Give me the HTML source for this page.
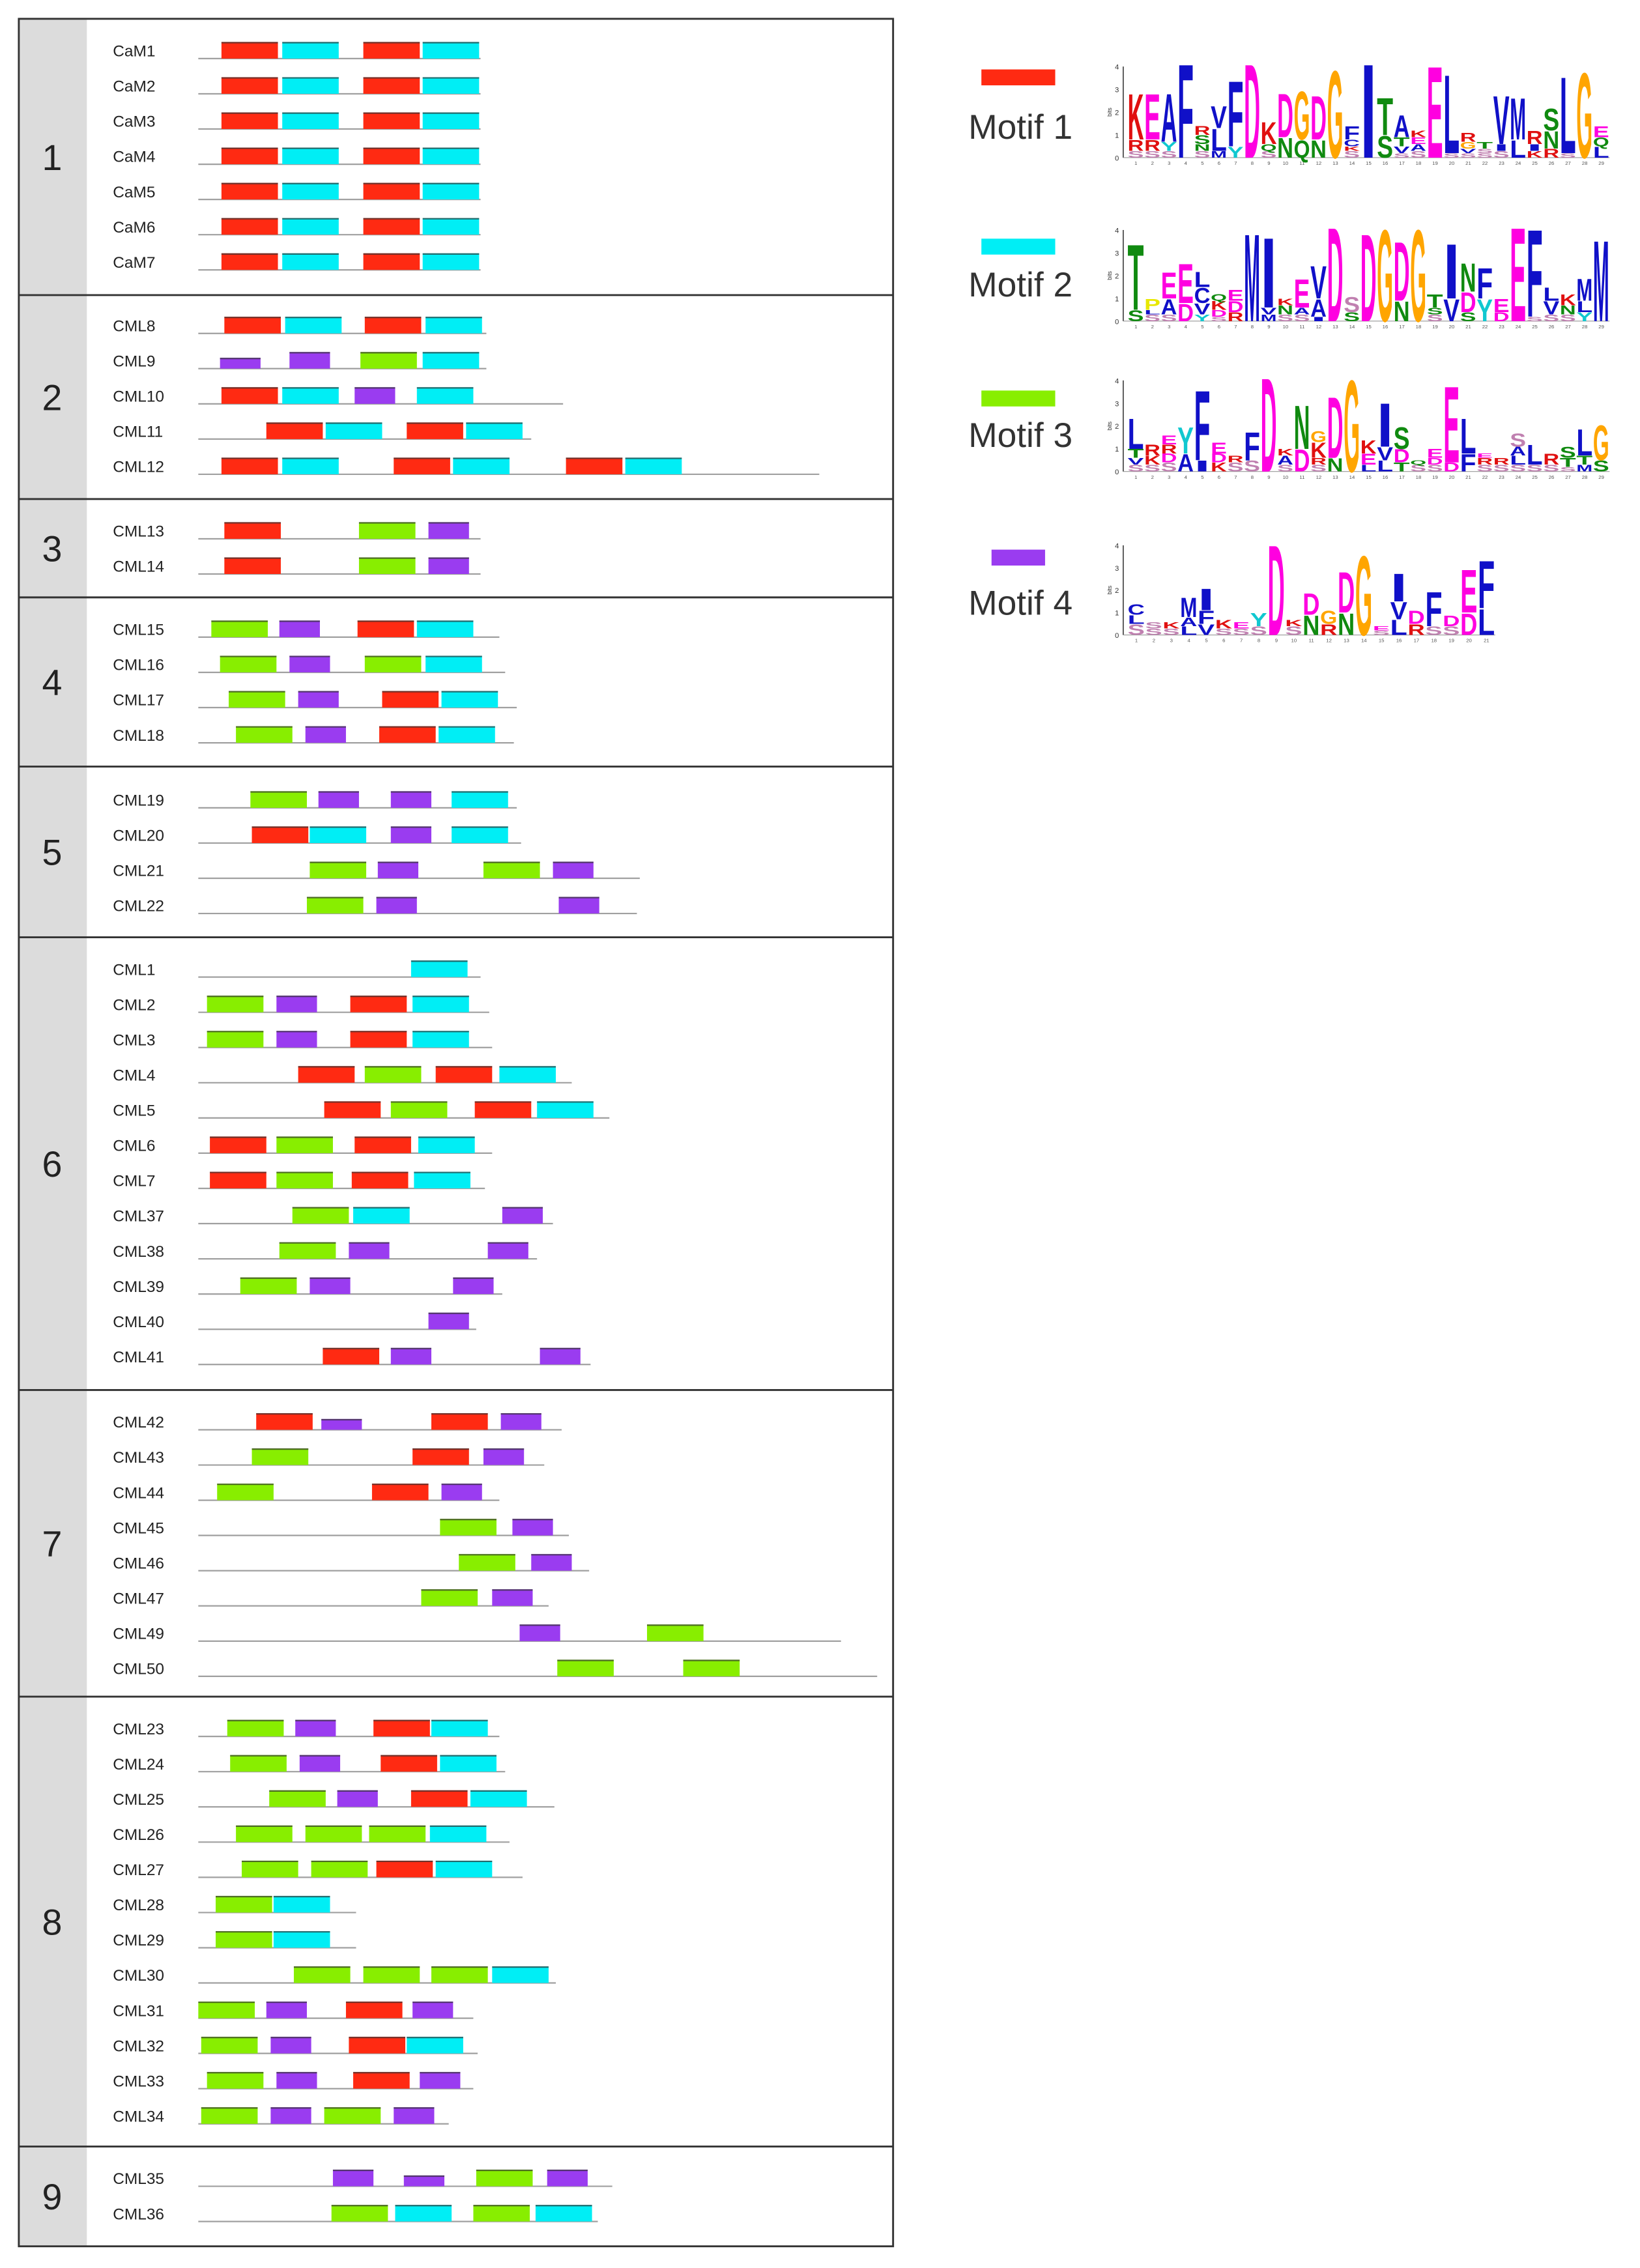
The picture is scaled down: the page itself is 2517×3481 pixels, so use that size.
<!DOCTYPE html>
<html><head><meta charset="utf-8"><style>
html,body{margin:0;padding:0;background:#fff;}
svg{display:block;}
</style></head><body>
<svg id="fig" xmlns="http://www.w3.org/2000/svg" width="2517" height="3481" viewBox="0 0 1133 1568" preserveAspectRatio="none" font-family="Liberation Sans, sans-serif">
<rect x="0" y="0" width="1133" height="1568" fill="#fff"/>
<g id="panel"></g>
<g id="legend"></g>
</svg>
<script>
// ---- data ----
const groupBounds = [13,204,345,413,530,648,961,1173,1484,1553];
const groupLabels = ["1","2","3","4","5","6","7","8","9"];
const groupFirstBase = [40.5,230.5,372.5,440.5,558.5,675.5,988.5,1200.5,1511.5];
const rowGroup = [0,0,0,0,0,0,0, 1,1,1,1,1, 2,2, 3,3,3,3, 4,4,4,4, 5,5,5,5,5,5,5,5,5,5,5,5, 6,6,6,6,6,6,6,6, 7,7,7,7,7,7,7,7,7,7,7,7, 8,8];
const rowNames = ["CaM1","CaM2","CaM3","CaM4","CaM5","CaM6","CaM7",
 "CML8","CML9","CML10","CML11","CML12","CML13","CML14",
 "CML15","CML16","CML17","CML18","CML19","CML20","CML21","CML22",
 "CML1","CML2","CML3","CML4","CML5","CML6","CML7","CML37","CML38","CML39","CML40","CML41",
 "CML42","CML43","CML44","CML45","CML46","CML47","CML49","CML50",
 "CML23","CML24","CML25","CML26","CML27","CML28","CML29","CML30","CML31","CML32","CML33","CML34",
 "CML35","CML36"];
// protein length (residue-scale units from line start)
const rowLength = [195,195,195,195,195,195,195, 199,199,252,230,429, 195,195,
 208,212,220,218, 220,223,305,303,
 195,201,203,258,284,203,198,245,234,210,192,271,
 251,239,208,256,270,242,444,469,
 208,212,246,215,224,109,109,247,190,193,190,173,
 286,276];
// motif hits: "motif:start" (start in residue-scale units from line start); "s" suffix = partial motif
const rowMotifs = [
 "1:16 2:58 1:114 2:155","1:16 2:58 1:114 2:155","1:16 2:58 1:114 2:155","1:16 2:58 1:114 2:155","1:16 2:58 1:114 2:155","1:16 2:58 1:114 2:155","1:16 2:58 1:114 2:155",
 "1:18 2:60 1:115 2:157","4:15s 4:63 3:112 2:155","1:16 2:58 4:108 2:151","1:47 2:88 1:144 2:185","1:16 2:58 1:135 2:176 1:254 2:295",
 "1:18 3:111 4:159","1:18 3:111 4:159",
 "3:9 4:56 1:110 2:151","3:15 4:63 3:115 2:157","3:21 4:69 1:127 2:168","3:26 4:74 1:125 2:166",
 "3:36 4:83 4:133 2:175","1:37 2:77 4:133 2:175","3:77 4:124 3:197 4:245","3:75 4:123 4:249",
 "2:147","3:6 4:54 1:105 2:148","3:6 4:54 1:105 2:148","1:69 3:115 1:164 2:208","1:87 3:133 1:191 2:234","1:8 3:54 1:108 2:152","1:8 3:54 1:106 2:149","3:65 2:107 4:210","3:56 4:104 4:200","3:29 4:77 4:176","4:159","1:86 4:133 4:236",
 "1:40 4:85s 1:161 4:209","3:37 1:148 4:197","3:13 1:120 4:168","3:167 4:217","3:180 4:230","3:154 4:203","4:222 3:310","3:248 3:335",
 "3:20 4:67 1:121 2:161","3:22 4:70 1:126 2:167","3:49 4:96 1:147 2:188","3:26 3:74 3:118 2:160","3:30 3:78 1:123 2:164","3:12 2:52","3:12 2:52","3:66 3:114 3:161 2:203","3:0 4:47 1:102 4:148","3:2 4:50 1:104 2:144","3:6 4:54 1:107 4:153","3:2 4:50 3:87 4:135",
 "4:93 4:142s 3:192 4:241","3:92 2:136 3:190 2:233"];
const motifColors = {"1":"#ff2a12","2":"#00eef5","3":"#88ee00","4":"#9a3cf0"};
const motifWidth = {"1":39,"2":39,"3":39,"4":28};

// logo data: columns bottom->top "LETTER height(bits)"
const logo1 = ["X.3 R.5 K2.1","X.3 R.5 E2.1","X.3 Y.4 A2.2","F4.3","X.3 N.3 S.4 R.4","M.3 L1 V1","Y.5 F3","D4.3","X.3 Q.3 K1","N.9 D2","Q.8 G2.2","N.8 D2","G4","X.3 K.2 C.3 F.6","I4.3","S1 T1.7","X.2 V.3 T.4 A1","X.3 A.3 E.3 K.3","E4.2","X.2 L3.6","X.2 V.2 G.3 R.4","X.2 X.2 T.3","X.3 I.3 V2.2","L.8 M1.9","K.3 I.3 R.6","R.4 N.8 S1","X.2 L3.5","G3.9","L.5 Q.4 E.5"];
const logo2 = ["S.5 T3","X.3 L.2 P.5","X.3 A.7 E1.2","D.8 E1.8","Y.3 V.5 C.7 L.7","X.2 D.3 K.4 Q.3","R.4 D.5 E.5","M4","M.3 V.3 I3.2","X.3 N.4 K.3","X.3 A.3 E1.3","I.2 A.8 V1.5","D4.3","S.4 X.7","D4","G4.2","N.9 D2.7","G4.2","X.3 S.3 T.6","V1 I2.5","S.4 D.9 N1.3","Y1 F1.4","D.4 E.6","E4.3","X.2 F4","X.3 V.6 L.6","X.3 N.4 K.5","Y.4 L.5 M1","M3.7"];
const logo3 = ["X.3 V.3 T.4 L1.4","X.3 K.4 R.5","X.4 D.4 R.4 E.4","A.8 Y1.2","I.5 F3.2","K.4 D.4 E.5","X.4 R.3","X.5 F1.3","D4.3","X.3 A.4 K.3","D1 N2","X.3 R.3 K.7 G.5","N.6 D2.8","G4.2","L.3 E.5 K.6","L.5 V.6 I2","T.4 D.6 S1","X.3 Q.2","X.3 D.3 E.4","D.4 E3.5","F.8 L1.6","X.3 R.3 E.2","X.3 R.3","X.3 L.4 A.4 X.6","X.3 L.9","X.3 R.5","X.2 T.4 S.5","M.3 T.4 L1.2","S.5 G1.6"];
const logo4 = ["X.5 L.4 C.5","X.3 X.3","X.3 K.3","L.4 A.4 M.9","V.5 F.6 I1","X.3 K.4","X.3 E.3","X.4 Y.6","D4.2","X.4 K.3","N.9 D1","R.5 G.6","N1 D1.9","G3.7","X.2 E.2","L.7 V.8 I1.3","R.5 D.6","X.4 F1.6","X.4 D.5","D1 E2","L1.2 F2.2"];

// ---- drawing ----
const NS = "http://www.w3.org/2000/svg";
const panel = document.getElementById('panel');
const legend = document.getElementById('legend');
function mk(tag, attrs, parent){const e=document.createElementNS(NS,tag);for(const k in attrs)e.setAttribute(k,attrs[k]);parent.appendChild(e);return e;}
const X0 = 137, ROWSTEP = 24.35, BARH = 11.5;
function xScale(v){return X0 + v;}

// gray label column
const gcol = mk('rect',{x:13,y:13,width:47,height:1540,fill:'#dcdcdc'},panel);


groupLabels.forEach((g,i)=>{
  const y0=groupBounds[i], y1=groupBounds[i+1];
  const t=mk('text',{x:36,y:(y0+y1)/2+9,'font-size':25,'text-anchor':'middle',fill:'#222'},panel);
  t.textContent=g;
  
  
});
// rows
const rowIndexInGroup = {};
rowNames.forEach((name,i)=>{
  const g=rowGroup[i];
  rowIndexInGroup[g]=(rowIndexInGroup[g]===undefined)?0:rowIndexInGroup[g]+1;
  const base=groupFirstBase[g]+rowIndexInGroup[g]*ROWSTEP;
  const row=mk('g',{},panel);
  
  
  const lab=mk('text',{x:78,y:base-1.5,'font-size':11,fill:'#222'},row);
  lab.textContent=name;
  
  
  const ln=mk('line',{x1:xScale(0),x2:xScale(rowLength[i]),y1:base,y2:base,stroke:'#a0a0a0','stroke-width':1},row);
  
  
  rowMotifs[i].split(' ').forEach(tok=>{
    const m=tok.split(':')[0]; let s=tok.split(':')[1]; let h=BARH;
    if(s.endsWith('s')){s=s.slice(0,-1);h=7.5;}
    const x=xScale(parseFloat(s)), w=motifWidth[m];
    const r=mk('rect',{x:x,y:base-h,width:w,height:h,fill:motifColors[m]},row);
    
    
    mk('line',{x1:x,x2:x+w,y1:base-h+0.5,y2:base-h+0.5,stroke:'#333','stroke-width':1,'stroke-opacity':0.7},row);
  });
});
// dividers and frame
for(let i=1;i<groupBounds.length-1;i++){
  const d=mk('line',{x1:13,x2:617,y1:groupBounds[i],y2:groupBounds[i],stroke:'#333','stroke-width':1.3},panel);
  
  
}
const fr=mk('rect',{x:13,y:13,width:604,height:1540,fill:'none',stroke:'#333','stroke-width':1.3},panel);



// legend
const legItems=[
 {m:"1",bx:678,bw:51,by:48,ty:96,logo:logo1,base:109,top:46,x0:779,x1:1112},
 {m:"2",bx:678,bw:51,by:165,ty:205,logo:logo2,base:222,top:159,x0:779,x1:1112},
 {m:"3",bx:678,bw:51,by:270,ty:309,logo:logo3,base:326,top:263,x0:779,x1:1112},
 {m:"4",bx:685,bw:37,by:380,ty:425,logo:logo4,base:439,top:377,x0:779,x1:1033}
];
const letterColor=c=>{
  if("ACFILMVW".includes(c))return '#1010c8';
  if("NQST".includes(c))return '#108a10';
  if("DE".includes(c))return '#ff00e0';
  if("KR".includes(c))return '#e01010';
  if(c==='G')return '#ffa500';
  if(c==='Y')return '#10c8d0';
  if(c==='P')return '#e8e800';
  return '#c080b0';
};
legItems.forEach(it=>{
  const g=mk('g',{},legend);
  
  
  const sw=mk('rect',{x:it.bx,y:it.by,width:it.bw,height:11,fill:motifColors[it.m]},g);
  
  
  const t=mk('text',{x:669,y:it.ty,'font-size':24,fill:'#333'},g);
  t.textContent='Motif '+it.m;
  
  
  // logo
  const lg=mk('g',{},g);
  
  
  const unit=(it.base-it.top)/4;
  mk('line',{x1:it.x0-3,x2:it.x0-3,y1:it.top,y2:it.base,stroke:'#333','stroke-width':0.7},lg);
  mk('line',{x1:it.x0-3,x2:it.x1,y1:it.base,y2:it.base,stroke:'#999','stroke-width':0.5},lg);
  for(let b=0;b<=4;b++){
    const tt=mk('text',{x:it.x0-6,y:it.base-b*unit+2,'font-size':5,'text-anchor':'end',fill:'#333'},lg);
    tt.textContent=String(b);
  }
  const bl=mk('text',{x:0,y:0,'font-size':4,fill:'#333',transform:'translate('+(it.x0-11)+','+((it.base+it.top)/2)+') rotate(-90)','text-anchor':'middle'},lg);
  bl.textContent='bits';
  const n=it.logo.length, cw=(it.x1-it.x0)/n;
  it.logo.forEach((col,ci)=>{
    let y=it.base;
    const cx=it.x0+ci*cw;
    const nt=mk('text',{x:cx+cw/2,y:it.base+5,'font-size':3.5,'text-anchor':'middle',fill:'#555'},lg);
    nt.textContent=String(ci+1);
    col.split(' ').forEach(tok=>{
      const L=tok[0], h=parseFloat(tok.slice(1))*unit;
      const sy=h/7.3;
      const ch=mk('text',{x:0,y:0,'font-size':10,'font-weight':'bold',fill:letterColor(L),textLength:(cw-0.3).toFixed(2),lengthAdjust:'spacingAndGlyphs',transform:'translate('+cx.toFixed(2)+','+y.toFixed(2)+') scale(1,'+sy.toFixed(3)+')'},lg);
      ch.textContent=(L==='X')?'S':L;
      y-=h;
    });
  });
});
</script>
</body></html>
